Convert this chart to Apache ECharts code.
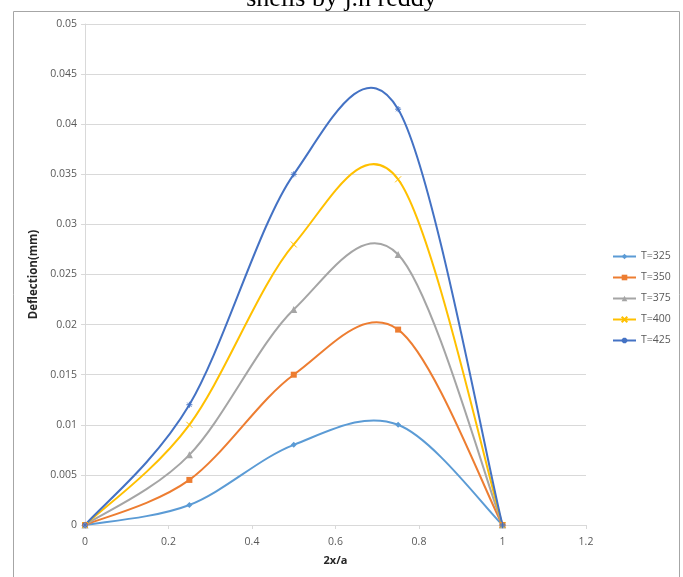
<!DOCTYPE html>
<html>
<head>
<meta charset="utf-8">
<script src="https://cdn.jsdelivr.net/npm/echarts@6/dist/echarts.min.js"></script>
<style>
  html, body { margin: 0; padding: 0; background: #fff; }
  #chart { width: 683px; height: 577px; }
</style>
</head>
<body>
<div id="chart"></div>
<script>
// Positions along the shell (2x/a) where deflection was computed
const xPositions = [0, 0.25, 0.5, 0.75, 1];

// Deflection (mm) for each temperature
const seriesNames = ['T=325', 'T=350', 'T=375', 'T=400', 'T=425'];
const t325 = [0, 0.002, 0.008, 0.010, 0];
const t350 = [0, 0.0045, 0.015, 0.0195, 0];
const t375 = [0, 0.007, 0.0215, 0.027, 0];
const t400 = [0, 0.010, 0.028, 0.0345, 0];
const t425 = [0, 0.012, 0.035, 0.0415, 0];

const colors = ['#5B9BD5', '#ED7D31', '#A5A5A5', '#FFC000', '#4472C4'];
const symbols = [
  'diamond',
  'rect',
  'triangle',
  'path://M0,0 L10,10 M10,0 L0,10',
  'path://M5,0 L5,10 M0,5 L10,5 M1.5,1.5 L8.5,8.5 M8.5,1.5 L1.5,8.5'
];
const symbolSizes = [6, 6, 7, 6, 6];

const values = [t325, t350, t375, t400, t425];

// Smooth curve through the points: cubic Bezier segments with
// Catmull-Rom style control points (tangent = (P[i+1]-P[i-1]) / 6).
function smoothPath(pts) {
  const n = pts.length;
  let d = 'M' + pts[0][0] + ',' + pts[0][1];
  for (let i = 0; i < n - 1; i++) {
    const p0 = pts[Math.max(i - 1, 0)];
    const p1 = pts[i];
    const p2 = pts[i + 1];
    const p3 = pts[Math.min(i + 2, n - 1)];
    const c1x = p1[0] + (p2[0] - p0[0]) / 6;
    const c1y = p1[1] + (p2[1] - p0[1]) / 6;
    const c2x = p2[0] - (p3[0] - p1[0]) / 6;
    const c2y = p2[1] - (p3[1] - p1[1]) / 6;
    d += ' C' + c1x + ',' + c1y + ' ' + c2x + ',' + c2y + ' ' + p2[0] + ',' + p2[1];
  }
  return d;
}

const chart = echarts.init(document.getElementById('chart'));

const tickFont = { fontFamily: 'Open Sans', fontSize: 10.5, color: '#595959' };

// Curves drawn by custom series (one path per temperature)
const curveSeries = values.map((vals, i) => ({
  name: seriesNames[i] + ' curve',
  type: 'custom',
  data: xPositions.map((x, k) => [x, vals[k]]),
  z: 2,
  silent: true,
  renderItem: function (params, api) {
    if (params.dataIndex !== 0) return null;
    const pts = xPositions.map((x, k) => api.coord([x, vals[k]]));
    return {
      type: 'path',
      shape: { pathData: smoothPath(pts) },
      style: { fill: 'none', stroke: colors[i], lineWidth: 2 }
    };
  }
}));

// Markers at the computed points (also drive the legend)
const markerSeries = values.map((vals, i) => ({
  name: seriesNames[i],
  type: 'line',
  data: xPositions.map((x, k) => [x, vals[k]]),
  symbol: symbols[i],
  symbolSize: symbolSizes[i],
  showAllSymbol: true,
  z: 3,
  lineStyle: { color: colors[i], width: 0, opacity: 0 },
  itemStyle: { color: colors[i], borderColor: colors[i], borderWidth: i >= 3 ? 1 : 0 }
}));

chart.setOption({
  animation: false,
  backgroundColor: '#fff',
  title: {
    text: 'shells by j.n reddy',
    left: 'center',
    top: -19,
    textStyle: { fontFamily: 'Liberation Serif', fontSize: 26, fontWeight: 'normal', color: '#000' }
  },
  graphic: [{
    type: 'rect',
    shape: { x: 13.5, y: 11.5, width: 666, height: 600 },
    style: { fill: 'none', stroke: '#a6a6a6', lineWidth: 1 },
    silent: true,
    z: -1
  }],
  legend: {
    orient: 'vertical',
    left: 607,
    top: 246,
    itemGap: 10,
    itemWidth: 23,
    itemHeight: 7,
    lineStyle: { width: 2, opacity: 1 },
    textStyle: { fontFamily: 'Open Sans', fontSize: 10.5, color: '#595959' },
    data: seriesNames
  },
  grid: { left: 85, right: 97, top: 24, bottom: 52, containLabel: false },
  xAxis: {
    type: 'value',
    min: 0, max: 1.2, interval: 0.2,
    name: '2x/a',
    nameLocation: 'middle',
    nameGap: 30,
    nameTextStyle: { fontFamily: 'Open Sans', fontSize: 11, fontWeight: 'bold', color: '#262626' },
    axisLine: { show: true, lineStyle: { color: '#d9d9d9' } },
    axisTick: { show: true, length: 4, lineStyle: { color: '#d9d9d9' } },
    splitLine: { show: false },
    axisLabel: Object.assign({ margin: 12, formatter: v => String(+v.toFixed(1)) }, tickFont)
  },
  yAxis: {
    type: 'value',
    min: 0, max: 0.05, interval: 0.005,
    name: 'Deflection(mm)',
    nameLocation: 'middle',
    nameGap: 43,
    nameTextStyle: { fontFamily: 'Open Sans', fontSize: 11.5, fontWeight: 'bold', color: '#262626' },
    axisLine: { show: true, lineStyle: { color: '#d9d9d9' } },
    axisTick: { show: true, length: 4, lineStyle: { color: '#d9d9d9' } },
    splitLine: { show: true, lineStyle: { color: '#d9d9d9' } },
    axisLabel: Object.assign({ margin: 8, formatter: v => String(+v.toFixed(3)) }, tickFont)
  },
  series: curveSeries.concat(markerSeries)
});
</script>
</body>
</html>
